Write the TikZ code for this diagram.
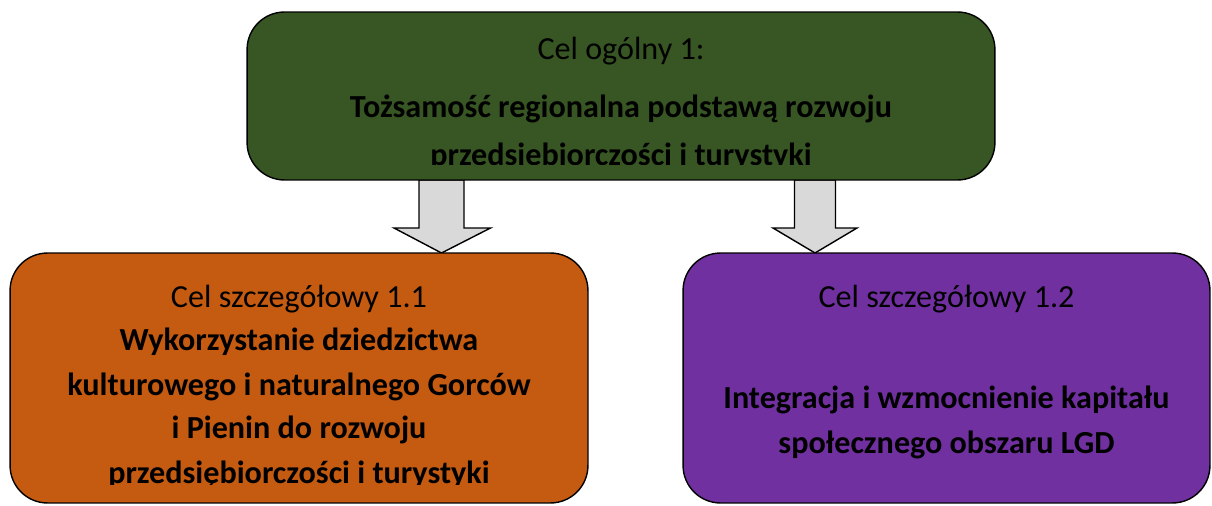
\documentclass[tikz,border=0pt]{standalone}
\usepackage{fontspec}
\setmainfont{Carlito}
\usetikzlibrary{calc}

\definecolor{celgreen}{HTML}{375623}
\definecolor{celorange}{HTML}{C55A11}
\definecolor{celpurple}{HTML}{7030A0}
\definecolor{arrowgray}{HTML}{D9D9D9}

\tikzset{
  celbox/.style={draw=black, line width=0.8pt, rounded corners=0.75cm, inner sep=0pt},
  celtext/.style={anchor=base, inner sep=0pt, font=\fontsize{18.3}{22}\selectfont},
  blockarrow/.style={draw=black, line width=0.8pt, fill=arrowgray, line join=miter}
}

\begin{document}
\begin{tikzpicture}[x=0.02cm, y=-0.02cm]
\useasboundingbox (0,0) rectangle (1212,506);

% arrows first, boxes on top
\coordinate (s1) at (441.5,180);
\coordinate (s2) at (815,180);
\draw[blockarrow] ($(s1)+(-22.5,0)$) -- ++(0,48) -- ++(-25,0) -- ($(s1)+(0,73)$) -- ++(49,-25) -- ++(-26.5,0) -- ++(0,-48) -- cycle;
\draw[blockarrow] ($(s2)+(-20.5,0)$) -- ++(0,48) -- ++(-21.5,0) -- ($(s2)+(0,73)$) -- ++(42,-25) -- ++(-21.5,0) -- ++(0,-48) -- cycle;

\node[celbox, fill=celgreen, minimum width=14.96cm, minimum height=3.36cm] (ogolny) at (621,96) {};
\node[celbox, fill=celorange, minimum width=11.56cm, minimum height=5cm] (lewy) at (299,378) {};
\node[celbox, fill=celpurple, minimum width=10.54cm, minimum height=5cm] (prawy) at (946.5,378) {};

\begin{scope}
\clip (ogolny.north west) rectangle ($(ogolny.south east)+(0,-16)$);
\node[celtext] (o1) at (621,60) {Cel ogólny 1:};
\node[celtext] (o2) at (621,118) {\textbf{Tożsamość regionalna podstawą rozwoju}};
\node[celtext] (o3) at (621,166) {\textbf{przedsiębiorczości i turystyki}};
\end{scope}

\begin{scope}
\clip (lewy.north west) rectangle ($(lewy.south east)+(0,-19)$);
\node[celtext] (l1) at (299,307) {Cel szczegółowy 1.1};
\node[celtext] (l2) at (299,350) {\textbf{Wykorzystanie dziedzictwa}};
\node[celtext] (l3) at (299,395) {\textbf{kulturowego i naturalnego Gorców}};
\node[celtext] (l4) at (299,438) {\textbf{i Pienin do rozwoju}};
\node[celtext] (l5) at (299,483) {\textbf{przedsiębiorczości i turystyki}};
\end{scope}

\node[celtext] (p1) at (946.5,307) {Cel szczegółowy 1.2};
\node[celtext] (p2) at (946.5,408) {\textbf{Integracja i wzmocnienie kapitału}};
\node[celtext] (p3) at (946.5,453) {\textbf{społecznego obszaru LGD}};
\end{tikzpicture}
\end{document}
